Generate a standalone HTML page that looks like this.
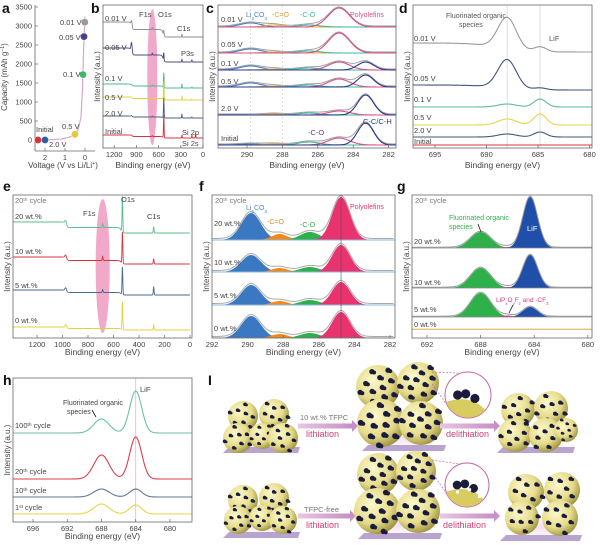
<!DOCTYPE html>
<html><head><meta charset="utf-8">
<style>
html,body{margin:0;padding:0;background:#fff;}
svg{display:block;font-family:"Liberation Sans",sans-serif;}
</style></head>
<body>
<svg id="fig" width="600" height="545" viewBox="0 0 600 545" xmlns="http://www.w3.org/2000/svg">
<defs>
<radialGradient id="sph" cx="0.38" cy="0.35" r="0.7">
<stop offset="0" stop-color="#fcf9cc"/><stop offset="0.6" stop-color="#e6dc8c"/><stop offset="1" stop-color="#9a8f3a"/>
</radialGradient>
<linearGradient id="arr" x1="0" x2="1"><stop offset="0" stop-color="#e9c6e2"/><stop offset="1" stop-color="#c78fc6"/></linearGradient>
<radialGradient id="glow" cx="0.5" cy="0.5" r="0.5"><stop offset="0" stop-color="#f3dff0"/><stop offset="1" stop-color="#ffffff" stop-opacity="0"/></radialGradient>
</defs>
</svg>
<script>
const NS='http://www.w3.org/2000/svg';
const svg=document.getElementById('fig');

/* ---------- data ---------- */
const aVoltage=[2.35,2.0,0.5,0.1,0.05,0.01];
const aCapacity=[0,0,150,1720,2720,3100];
const aCurveV=[2.5,2.0,1.2,0.8,0.55,0.35,0.2,0.12,0.08,0.04,0.01,0];
const aCurveC=[0,0,25,70,140,260,600,1400,2200,2800,3100,3250];
const aYTicks=[0,500,1000,1500,2000,2500,3000,3500];
const aXTicks=[2,1,0];
const bLabels=['0.01 V','0.05 V','0.1 V','0.5 V','2.0 V','Initial'];
const bOffset=[111,86,60,48,30,10];
const bTilt=[15,14,4,3,2,3];
const bPeakE=[965,685,530,285,150,100];
const bAmps=[[6,2,5,3,0,0],[10,2,8,3,2,0],[1,1,15,4,1,0],[1,1,18,4,1,0],[1,1,20,4,1,0],[1,1,22,3,3,4]];
const bTicks=[1200,900,600,300,0];
const cLabels=['0.01 V','0.05 V','0.1 V','0.5 V','2.0 V','Initial'];
const cBase=[27,53,70,87,115,145];
const cCenters=[289.8,288.5,286.5,284.8,283.3];
const cSigma=[0.6,0.5,0.6,0.6,0.45];
const cAmps=[[4,2,2,19,0],[4,1,2,20,0],[4,1,2,8,8],[4,1,2,8,12],[0,1,2,4,20],[1,1,3,7,22]];
const cTicks=[290,288,286,284,282];
const dLabels=['0.01 V','0.05 V','0.1 V','0.5 V','2.0 V','Initial'];
const dOffset=[96,58,41,23,11,3];
const dTilt=[9,5,0,0,0,0];
const dCenters=[688,684.8];
const dSigma=[0.9,0.6];
const dAmps=[[32,5],[29,2],[3,8],[6,11],[3,5],[0,0]];
const dTicks=[695,690,685,680];
const eLabels=['20 wt.%','10 wt.%','5 wt.%','0 wt.%'];
const eOffset=[105,74,43,8];
const eTilt=[11,7,5,3];
const ePeakE=[975,685,530,285];
const eAmps=[[3,4,36,6],[3,4,32,5],[3,3,28,8],[3,1,28,5]];
const eTicks=[1200,1000,800,600,400,200,0];
const fLabels=['20 wt.%','10 wt.%','5 wt.%','0 wt.%'];
const fBase=[240,272,305,338];
const fCenters=[289.8,288.2,286.5,284.75];
const fSigma=[0.55,0.45,0.55,0.5];
const fAmps=[[27,6,8,43],[17,4,5,27],[20,4,5,23],[22,4,5,26]];
const fTicks=[292,290,288,286,284,282];
const gLabels=['20 wt.%','10 wt.%','5 wt.%','0 wt.%'];
const gBase=[248,288,317,330];
const gCenters=[688,686,684.3];
const gSigma=[0.75,0.4,0.55];
const gAmps=[[16,1,51],[20,1,33],[24,1.5,10],[0,0,0]];
const gTicks=[692,688,684,680];
const hBase=[433,479,497,514];
const hCenters=[688,684];
const hSigma=[0.9,0.7];
const hAmps=[[14,42],[24,42],[8,8],[10,9]];
const hTicks=[696,692,688,684,680];

/* ---------- helpers ---------- */
function mk(parent,tag,attrs,name,inter){
  const el=document.createElementNS(NS,tag);
  for(const k in attrs) el.setAttribute(k,attrs[k]);
  
  
  parent.appendChild(el);return el;
}
function txt(parent,x,y,parts,size,fill,anchor,name,extra){
  const t=mk(parent,'text',Object.assign({x:x,y:y,'font-size':size,fill:fill,'text-anchor':anchor||'start'},extra||{}),name,false);
  if(typeof parts==='string') parts=[[parts]];
  parts.forEach(p=>{const s=document.createElementNS(NS,'tspan');s.textContent=p[0];
    if(p[1]==='sup'){s.setAttribute('font-size',size*0.65);s.setAttribute('baseline-shift','super');}
    if(p[1]==='sub'){s.setAttribute('font-size',size*0.65);s.setAttribute('baseline-shift','sub');}
    t.appendChild(s);});
  return t;
}
const G=(E,c,s)=>Math.exp(-0.5*((E-c)/s)**2);
const S=x=>1/(1+Math.exp(-x));
function pts(xm,E0,E1,step,f){const p=[];for(let E=E0;E>=E1-1e-9;E-=step)p.push([xm(E),f(E)]);return p;}
function D(p){return 'M'+p.map(q=>q[0].toFixed(2)+','+q[1].toFixed(2)).join('L');}
function panelBox(x0,y0,x1,y1,name){
  const g=mk(svg,'g',{},name,false);
  const cp=mk(g,'clipPath',{id:'clip-'+name},'clip',false);
  mk(cp,'rect',{x:x0,y:y0,width:x1-x0,height:y1-y0},'clip-rect',false);
  const inner=mk(g,'g',{'clip-path':'url(#clip-'+name+')'},'plot-area',false);
  return {g,inner};
}
function frame(g,x0,y0,x1,y1,ticks,xm,title,ty,name){
  mk(g,'rect',{x:x0,y:y0,width:x1-x0,height:y1-y0,fill:'none',stroke:'#666','stroke-width':0.8},name+'-frame',false);
  ticks.forEach(v=>{const x=xm(v);
    mk(g,'line',{x1:x,x2:x,y1:y1,y2:y1-3,stroke:'#666','stroke-width':0.7},'x-tick',false);
    txt(g,x,y1+9,String(v),7.5,'#444','middle','x-tick-label');});
  txt(g,(x0+x1)/2,ty,title,8.5,'#444','middle','x-axis-title');
  txt(g,x0-3,(y0+y1)/2,'Intensity (a.u.)',8,'#444','middle','y-axis-title',{transform:'rotate(-90 '+(x0-3)+' '+((y0+y1)/2)+')'});
}
function plabel(x,y,s){txt(svg,x,y,s,14,'#111','start','panel-label-'+s,{'font-weight':'bold'});}

/* ---------- panel a ---------- */
(function(){
  const xm=v=>85-20*v, ym=c=>140-c*133/3500;
  const g=mk(svg,'g',{},'panel-a',false);
  mk(g,'line',{x1:35,y1:5,x2:35,y2:151,stroke:'#666','stroke-width':0.8},'y-axis',false);
  mk(g,'line',{x1:35,y1:151,x2:95,y2:151,stroke:'#666','stroke-width':0.8},'x-axis',false);
  aYTicks.forEach(v=>{mk(g,'line',{x1:35,x2:38,y1:ym(v),y2:ym(v),stroke:'#666','stroke-width':0.7},'y-tick',false);
    txt(g,32,ym(v)+2.5,String(v),7.5,'#444','end','y-tick-label');});
  aXTicks.forEach(v=>{mk(g,'line',{x1:xm(v),x2:xm(v),y1:151,y2:148,stroke:'#666','stroke-width':0.7},'x-tick',false);
    txt(g,xm(v),160,String(v),7.5,'#444','middle','x-tick-label');});
  txt(g,63,168,[['Voltage (V vs Li/Li'],['+','sup'],[')']],8,'#444','middle','x-axis-title');
  txt(g,7,77,[['Capacity (mAh g'],['−1','sup'],[')']],8,'#444','middle','y-axis-title',{transform:'rotate(-90 7 77)'});
  const p=aCurveV.map((v,i)=>[xm(v),ym(aCurveC[i])]);
  mk(g,'path',{d:D(p),fill:'none',stroke:'#d8a6c8','stroke-width':1.2},'capacity-curve',false);
  const cols=['#d8323c','#2f5f9e','#e8c83a','#3cb86a','#4a3f8c','#9a9a9a'];
  aVoltage.forEach((v,i)=>{mk(g,'circle',{cx:xm(v),cy:ym(aCapacity[i]),r:3.6,fill:cols[i],stroke:'#fff','stroke-width':0.4},'state-point',true);});
  const L=[['0.01 V',60,25],['0.05 V',59,40],['0.1 V',63,77],['0.5 V',62,129],['Initial',36,132],['2.0 V',49,147]];
  L.forEach(l=>txt(g,l[1],l[2],l[0],7.5,'#444','start','point-label'));
})();
plabel(2,13,'a');

/* ---------- panel b ---------- */
(function(){
  const x0=103,y0=5,x1=203,y1=148,xm=E=>203-E*0.074;
  const {g,inner}=panelBox(x0,y0,x1,y1,'panel-b');
  mk(inner,'ellipse',{cx:xm(685),cy:77,rx:5,ry:68,fill:'#f09ac0',opacity:0.85},'f1s-highlight',false);
  const cols=['#8e8e8e','#4e4a7e','#4cb88a','#e6cf3c','#4a5f80','#d8323c'];
  const sig=[8,4,4,3,3,3];
  bLabels.forEach((lab,i)=>{
    const f=E=>y1-(bOffset[i]+bTilt[i]*(0.5*S((E-970)/8)+0.5*S((E-540)/8))+bPeakE.reduce((s,c,k)=>s+bAmps[i][k]*G(E,c,sig[k]),0));
    mk(inner,'path',{d:D(pts(xm,1560,0,2,f)),fill:'none',stroke:cols[i],'stroke-width':0.9},'survey-trace',false);
    txt(g,105,[21,50,81,100,116,134][i],lab,7.5,'#444','start','trace-label');
  });
  frame(g,x0,y0,x1,y1,bTicks,xm,'Binding energy (eV)',168,'panel-b');
  [['F1s',139,17],['O1s',158,17],['C1s',177,31],['P3s',181,56],['Si 2p',182,135],['Si 2s',182,146]].forEach(l=>txt(g,l[1],l[2],l[0],7.5,'#444','start','peak-label'));
})();
plabel(91,13,'b');

/* ---------- panel c ---------- */
(function(){
  const x0=218,y0=5,x1=396,y1=148,xm=E=>247+(290-E)*17.7;
  const {g,inner}=panelBox(x0,y0,x1,y1,'panel-c');
  [289.8,288].forEach(E=>mk(inner,'line',{x1:xm(E),x2:xm(E),y1:y0,y2:y1,stroke:'#ccc','stroke-width':0.6,'stroke-dasharray':'2,2'},'guide-line',false));
  const cols=['#4a7fc0','#e9a83a','#3cb8a0','#d6508a','#2b3a8c'];
  cLabels.forEach((lab,i)=>{
    const b=cBase[i];
    mk(inner,'line',{x1:x0,x2:x1,y1:b,y2:b,stroke:'#e8a040','stroke-width':0.9},'baseline',false);
    const env=E=>b-cCenters.reduce((s,c,k)=>s+cAmps[i][k]*G(E,c,cSigma[k]),0)-1;
    mk(inner,'path',{d:D(pts(xm,291.8,281.2,0.05,env)),fill:'none',stroke:'#999','stroke-width':0.9},'envelope',false);
    cCenters.forEach((c,k)=>{if(!cAmps[i][k])return;
      const f=E=>b-cAmps[i][k]*G(E,c,cSigma[k]);
      mk(inner,'path',{d:D(pts(xm,291.8,281.2,0.05,f)),fill:'none',stroke:cols[k],'stroke-width':1.1},'component-curve',false);});
    txt(g,221,[22,47,66,84,111,141][i],lab,7.5,'#444','start','trace-label');
  });
  frame(g,x0,y0,x1,y1,cTicks,xm,'Binding energy (eV)',168,'panel-c');
  txt(g,246,17,[['Li'],['2','sub'],['CO'],['3','sub']],7,'#4a7fc0','start','li2co3-label');
  txt(g,272,17,'-C=O',7,'#e0a030','start','co-label');
  txt(g,300,17,'-C-O',7,'#3cb8a0','start','c-o-label');
  txt(g,350,17,'Polyolefins',7,'#d6508a','start','polyolefins-label');
  txt(g,363,124,'C-C/C-H',7.5,'#2b3a8c','start','cc-label');
  txt(g,308,135,'-C-O',7.5,'#6a3a8a','start','c-o-label-2');
})();
plabel(206,13,'c');

/* ---------- panel d ---------- */
(function(){
  const x0=413,y0=5,x1=592,y1=148,xm=E=>435+(695-E)*10.3;
  const {g,inner}=panelBox(x0,y0,x1,y1,'panel-d');
  dCenters.forEach(E=>mk(inner,'line',{x1:xm(E),x2:xm(E),y1:y0,y2:y1,stroke:'#ccc','stroke-width':0.6},'guide-line',false));
  const cols=['#9a9a9a','#3d5580','#5bbf9a','#e8d44a','#3d5a80','#d8323c'];
  dLabels.forEach((lab,i)=>{
    const f=E=>y1-(dOffset[i]+dTilt[i]*S((E-689)/1.2)+dCenters.reduce((s,c,k)=>s+dAmps[i][k]*G(E,c,dSigma[k]),0));
    mk(inner,'path',{d:D(pts(xm,697.5,679.5,0.05,f)),fill:'none',stroke:cols[i],'stroke-width':1.1},'f1s-trace',false);
    txt(g,414,[41,81,102,120,133,144][i],lab,7.5,'#444','start','trace-label');
  });
  frame(g,x0,y0,x1,y1,dTicks,xm,'Binding energy (eV)',168,'panel-d');
  txt(g,446,18,'Fluorinated organic',7,'#555','start','organic-label');
  txt(g,459,27,'species',7,'#555','start','organic-label-2');
  txt(g,549,41,'LiF',7.5,'#555','start','lif-label');
})();
plabel(399,13,'d');

/* ---------- panel e ---------- */
(function(){
  const x0=13,y0=195,x1=192,y1=338,xm=E=>190-E*0.1275;
  const {g,inner}=panelBox(x0,y0,x1,y1,'panel-e');
  mk(inner,'ellipse',{cx:xm(685),cy:266,rx:7,ry:67,fill:'#f09ac0',opacity:0.85},'f1s-highlight',false);
  const cols=['#5bbf8a','#d8323c','#4a6a90','#e6cf3c'];
  const sig=[6,3,3,3];
  eLabels.forEach((lab,i)=>{
    const f=E=>y1-(eOffset[i]+eTilt[i]*(0.5*S((E-970)/6)+0.5*S((E-540)/6))+ePeakE.reduce((s,c,k)=>s+eAmps[i][k]*G(E,c,sig[k]),0));
    mk(inner,'path',{d:D(pts(xm,1390,0,1.5,f)),fill:'none',stroke:cols[i],'stroke-width':0.9},'survey-trace',false);
    txt(g,15,[219,254,288,323][i],lab,7.5,'#444','start','trace-label');
  });
  frame(g,x0,y0,x1,y1,eTicks,xm,'Binding energy (eV)',355,'panel-e');
  txt(g,15,203,[['20'],['th','sup'],[' cycle']],7.5,'#777','start','cycle-label');
  txt(g,83,216,'F1s',7.5,'#444','start','peak-label');
  txt(g,121,202,'O1s',7.5,'#444','start','peak-label');
  txt(g,147,219,'C1s',7.5,'#444','start','peak-label');
})();
plabel(3,191,'e');

/* ---------- panel f ---------- */
(function(){
  const x0=212,y0=195,x1=395,y1=338,xm=E=>212+(292-E)*17.8;
  const {g,inner}=panelBox(x0,y0,x1,y1,'panel-f');
  const cols=['#3a78c2','#f08a1c','#2eb04a','#e8336f'];
  fLabels.forEach((lab,i)=>{
    const b=fBase[i];
    const env=E=>b-fCenters.reduce((s,c,k)=>s+fAmps[i][k]*G(E,c,fSigma[k]),0)-1.5;
    fCenters.forEach((c,k)=>{
      const p=pts(xm,292.2,281.8,0.05,E=>b-fAmps[i][k]*G(E,c,fSigma[k]));
      mk(inner,'path',{d:D(p)+'L'+xm(281.8)+','+b+'L'+xm(292.2)+','+b+'Z',fill:cols[k]},'component-fill',false);});
    mk(inner,'path',{d:D(pts(xm,292.2,281.8,0.05,env)),fill:'none',stroke:'#aaa','stroke-width':1},'envelope',false);
    mk(inner,'line',{x1:x0,x2:x1,y1:b,y2:b,stroke:'#8bb8dd','stroke-width':1},'row-separator',false);
    txt(g,214,[226,265,298,331][i],lab,7.5,'#444','start','trace-label');
  });
  mk(inner,'line',{x1:xm(284.75),x2:xm(284.75),y1:y0,y2:y1,stroke:'#555','stroke-width':0.6},'guide-line',false);
  frame(g,x0,y0,x1,y1,fTicks,xm,'Binding energy (eV)',355,'panel-f');
  txt(g,215,203,[['20'],['th','sup'],[' cycle']],7.5,'#777','start','cycle-label');
  txt(g,246,210,[['Li'],['2','sub'],['CO'],['3','sub']],7,'#4a86c8','start','li2co3-label');
  txt(g,267,224,'-C=O',7,'#e08a2a','start','co-label');
  txt(g,300,227,'-C-O',7,'#2eb04a','start','c-o-label');
  txt(g,350,209,'Polyolefins',7,'#e8336f','start','polyolefins-label');
})();
plabel(199,191,'f');

/* ---------- panel g ---------- */
(function(){
  const x0=412,y0=195,x1=592,y1=338,xm=E=>427+(692-E)*13.4;
  const {g,inner}=panelBox(x0,y0,x1,y1,'panel-g');
  const cols=['#2eb04a','#d63a8a','#1f4fa8'];
  gLabels.forEach((lab,i)=>{
    const b=gBase[i];
    gCenters.forEach((c,k)=>{if(!gAmps[i][k])return;
      const p=pts(xm,693.5,679.5,0.05,E=>b-gAmps[i][k]*G(E,c,gSigma[k]));
      mk(inner,'path',{d:D(p)+'L'+xm(679.5)+','+b+'L'+xm(693.5)+','+b+'Z',fill:cols[k]},'component-fill',false);});
    const env=E=>b-gCenters.reduce((s,c,k)=>s+gAmps[i][k]*G(E,c,gSigma[k]),0)-0.8;
    mk(inner,'path',{d:D(pts(xm,693.5,679.5,0.05,env)),fill:'none',stroke:i===3?'#d8a84a':'#999','stroke-width':1},'envelope',false);
    if(i<3) mk(inner,'line',{x1:x0,x2:x1,y1:b,y2:b,stroke:'#888','stroke-width':0.7},'row-separator',false);
    txt(g,414,[244,285,312,327][i],lab,7.5,'#444','start','trace-label');
  });
  frame(g,x0,y0,x1,y1,gTicks,xm,'Binding energy (eV)',355,'panel-g');
  txt(g,415,203,[['20'],['th','sup'],[' cycle']],7.5,'#777','start','cycle-label');
  txt(g,449,220,'Fluorinated organic',7,'#2eb04a','start','organic-label');
  txt(g,449,229,'species',7,'#2eb04a','start','organic-label-2');
  mk(g,'line',{x1:478,y1:224,x2:481,y2:232,stroke:'#111','stroke-width':0.8},'annotation-arrow',false);
  txt(g,527,231,'LiF',7.5,'#fff','start','lif-label');
  txt(g,496,302,[['LiP'],['x','sub'],['O'],['y','sub'],['F'],['z','sub'],[' and -CF'],['3','sub']],6.5,'#d63a8a','start','lipof-label');
  mk(g,'line',{x1:513,y1:305,x2:509,y2:313,stroke:'#111','stroke-width':0.8},'annotation-arrow',false);
})();
plabel(397,191,'g');

/* ---------- panel h ---------- */
(function(){
  const x0=13,y0=378,x1=192,y1=522,xm=E=>33+(696-E)*8.56;
  const {g,inner}=panelBox(x0,y0,x1,y1,'panel-h');
  mk(inner,'line',{x1:xm(684),x2:xm(684),y1:y0,y2:y1,stroke:'#f0b0c8','stroke-width':0.8},'lif-guide',false);
  const cols=['#6cc49a','#d8404a','#607890','#e8d44a'];
  const labs=[['100','th'],['20','th'],['10','th'],['1','st']];
  hBase.forEach((b,i)=>{
    const f=E=>b-hCenters.reduce((s,c,k)=>s+hAmps[i][k]*G(E,c,hSigma[k]),0);
    mk(inner,'path',{d:D(pts(xm,698.5,677,0.05,f)),fill:'none',stroke:cols[i],'stroke-width':1.1},'f1s-trace',false);
    txt(g,15,[428,474,493,510][i],[[labs[i][0]],[labs[i][1],'sup'],[' cycle']],7.5,'#444','start','trace-label');
  });
  frame(g,x0,y0,x1,y1,hTicks,xm,'Binding energy (eV)',539,'panel-h');
  txt(g,63,405,'Fluorinated organic',7,'#444','start','organic-label');
  txt(g,67,414,'species',7,'#444','start','organic-label-2');
  mk(g,'line',{x1:92,y1:410,x2:96,y2:417,stroke:'#111','stroke-width':0.8},'annotation-arrow',false);
  txt(g,140,392,'LiF',7.5,'#444','start','lif-label');
})();
plabel(3,385,'h');

/* ---------- panel i (schematic) ---------- */
(function(){
  const g=mk(svg,'g',{},'panel-i',false);
  txt(g,208,385,'I',14,'#111','start','panel-label-i',{'font-weight':'bold'});
  function platform(x0,x1,y,name){
    mk(g,'ellipse',{cx:(x0+x1)/2,cy:y-8,rx:(x1-x0)*0.65,ry:20,fill:'url(#glow)'},'glow',false);
    mk(g,'polygon',{points:(x0+6)+','+y+' '+(x1)+','+y+' '+(x1-2)+','+(y+6)+' '+(x0)+','+(y+6),fill:'#b9a3cf'},name,false);
  }
  function sphere(cx,cy,r,n){
    mk(g,'circle',{cx:cx,cy:cy,r:r,fill:'url(#sph)'},'silicon-particle',false);
    for(let k=0;k<n;k++){const a=k*2.39996+cx*0.1,rad=r*0.95*Math.sqrt((k+0.5)/n);
      const dx=cx+rad*Math.cos(a),dy=cy+rad*Math.sin(a);
      mk(g,'circle',{cx:dx,cy:dy,r:r*0.12,fill:'#1b1c3c'},'carbon-dot',false);
      mk(g,'circle',{cx:dx+r*0.1,cy:dy+r*0.04,r:r*0.09,fill:'#1b1c3c'},'carbon-dot',false);}
  }
  function cluster(list,n){list.forEach(s=>sphere(s[0],s[1],s[2],n));}
  function arrow(x0,x1,y){
    mk(g,'rect',{x:x0,y:y-2.5,width:x1-x0-6,height:5,fill:'url(#arr)'},'process-arrow',false);
    mk(g,'polygon',{points:(x1-6)+','+(y-6)+' '+x1+','+y+' '+(x1-6)+','+(y+6),fill:'#c78fc6'},'arrow-head',false);
  }
  function inset(cx,cy,r,fromX,fromY,broken){
    mk(g,'line',{x1:fromX,y1:fromY,x2:cx-r*0.3,y2:cy-r*0.95,stroke:'#c06aa8','stroke-width':0.7,'stroke-dasharray':'2,1.5'},'zoom-line',false);
    mk(g,'line',{x1:fromX,y1:fromY+12,x2:cx-r*0.9,y2:cy+r*0.45,stroke:'#c06aa8','stroke-width':0.7,'stroke-dasharray':'2,1.5'},'zoom-line',false);
    mk(g,'circle',{cx:cx,cy:cy,r:r,fill:'#fff',stroke:'#c06aa8','stroke-width':1},'inset-circle',false);
    mk(g,'path',{d:'M'+(cx-r*0.95)+','+(cy+r*0.3)+' Q'+(cx+r*0.1)+','+(cy-r*0.05)+' '+(cx+r*0.75)+','+(cy+r*0.65)+' A'+r+','+r+' 0 0 1 '+(cx-r*0.95)+','+(cy+r*0.3)+'Z',fill:'#d8cc60'},'inset-particle',false);
    [[-0.45,0.0],[-0.1,-0.05],[0.3,0.15]].forEach(d=>mk(g,'circle',{cx:cx+d[0]*r,cy:cy+d[1]*r,r:r*0.2,fill:'#1b1c3c'},'inset-dot',false));
    if(broken) [[-0.5,0.25],[0.05,0.15],[0.5,0.45]].forEach(d=>mk(g,'rect',{x:cx+d[0]*r,y:cy+d[1]*r,width:3,height:3,fill:'#fff'},'sei-crack',false));
  }
  platform(223,300,447,'substrate');
  cluster([[243,416,15],[274,414,15],[238,438,15],[262,436,13],[283,438,15]],8);
  arrow(298,358,426);
  platform(362,446,445,'substrate');
  cluster([[378,387,22],[418,383,21],[381,423,24],[421,423,22]],12);
  inset(468,395,23,432,372,false);
  arrow(440,500,426);
  platform(497,575,447,'substrate');
  cluster([[518,410,17],[551,408,17],[515,435,17],[546,435,17],[566,430,12]],8);
  platform(223,300,532,'substrate');
  cluster([[243,500,15],[274,498,15],[238,520,14],[262,518,13],[283,520,14]],8);
  arrow(298,356,516);
  platform(358,442,533,'substrate');
  cluster([[378,474,21],[416,471,20],[377,511,23],[418,511,22]],12);
  inset(467,485,22,432,460,true);
  arrow(440,500,516);
  platform(500,582,535,'substrate');
  cluster([[526,492,18],[562,490,18],[522,518,17],[560,518,18]],8);
  txt(g,300,420,'10 wt.% TFPC',7.5,'#777','start','tfpc-label');
  txt(g,306,437,'lithiation',9,'#d0407a','start','lithiation-label');
  txt(g,446,437,'delithiation',9,'#d0407a','start','delithiation-label');
  txt(g,304,512,'TFPC-free',7.5,'#777','start','tfpc-free-label');
  txt(g,306,528,'lithiation',9,'#d0407a','start','lithiation-label-2');
  txt(g,443,528,'delithiation',9,'#d0407a','start','delithiation-label-2');
})();
</script>
</body></html>
